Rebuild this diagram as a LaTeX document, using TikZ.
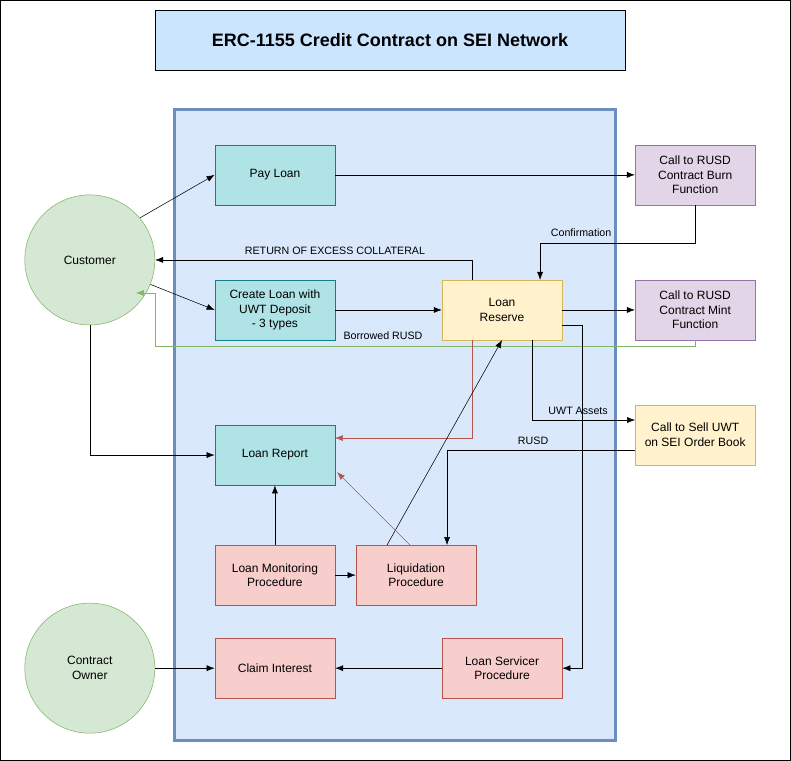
\documentclass[tikz,border=0pt]{standalone}
\usepackage{fontspec}
\setmainfont{Liberation Sans}
\usetikzlibrary{arrows.meta, positioning, calc}

\definecolor{titlefill}{HTML}{CCE5FF}
\definecolor{boxfill}{HTML}{DAE8FC}
\definecolor{boxline}{HTML}{6C8EBF}
\definecolor{tealfill}{HTML}{B0E3E6}
\definecolor{tealline}{HTML}{0E8088}
\definecolor{yelfill}{HTML}{FFF2CC}
\definecolor{yelline}{HTML}{D6B656}
\definecolor{purfill}{HTML}{E1D5E7}
\definecolor{purline}{HTML}{9673A6}
\definecolor{redfill}{HTML}{F8CECC}
\definecolor{redline}{HTML}{B85450}
\definecolor{grnfill}{HTML}{D5E8D4}
\definecolor{grnline}{HTML}{82B366}

\begin{document}
\begin{tikzpicture}[
    x=0.75pt, y=-0.75pt,
    every node/.style={font=\fontsize{9}{11}\selectfont, align=center},
    box/.style={rectangle, draw, minimum width=90pt, minimum height=45pt, inner sep=2pt},
    teal/.style={box, fill=tealfill, draw=tealline},
    yel/.style={box, fill=yelfill, draw=yelline},
    pur/.style={box, fill=purfill, draw=purline},
    rd/.style={box, fill=redfill, draw=redline},
    actor/.style={circle, draw=grnline, fill=grnfill, minimum size=97.5pt, inner sep=0pt},
    arr/.style={-{Latex[length=6pt,width=4.5pt]}, thin},
    rarr/.style={arr, draw=redline},
    garr/.style={arr, draw=grnline},
    lbl/.style={font=\fontsize{8}{10}\selectfont, inner sep=1pt}
    ]

    % frame
    \draw (0.5,0.5) rectangle (790.5,760.5);

    % title
    \node[draw, fill=titlefill, minimum width=352.5pt, minimum height=45pt,
          font=\fontsize{13.5}{16}\selectfont\bfseries] (title) at (390,40)
          {ERC-1155 Credit Contract on SEI Network};

    % contract container
    \draw[boxline, fill=boxfill, line width=2.2pt] (175,110) rectangle (615,740);

    % steps
    \node[teal] (pay) at (275,175) {Pay Loan};
    \node[teal] (create) at (275,310) {Create Loan with\\UWT Deposit\\- 3 types};
    \node[teal] (report) at (275,455) {Loan Report};
    \node[yel] (reserve) at (502,310) {Loan\\Reserve};
    \node[pur] (burn) at (695,175) {Call to RUSD\\Contract Burn\\Function};
    \node[pur] (mint) at (695,310) {Call to RUSD\\Contract Mint\\Function};
    \node[yel] (sell) at (695,435) {Call to Sell UWT\\on SEI Order Book};
    \node[rd] (monitor) at (275,575) {Loan Monitoring\\Procedure};
    \node[rd] (liquid) at (416,575) {Liquidation\\Procedure};
    \node[rd] (claim) at (275,668) {Claim Interest};
    \node[rd] (servicer) at (502,668) {Loan Servicer\\Procedure};

    % actors
    \node[actor] (customer) at (90,260) {Customer};
    \node[actor] (owner) at (90,668) {Contract\\Owner};

    % connectors
    \draw[arr] (customer.40) -- (pay.west);
    \draw[arr] (customer.-22) -- (create.west);
    \draw[arr] (customer.south) |- (report.west);
    \draw[arr] (pay.east) -- (burn.west);
    \draw[arr] (burn.south) |- (540,243) -- (540,280);
    \node[lbl] (conf) at (581,233) {Confirmation};
    \draw[arr] (472,280) |- (customer.east);
    \node[lbl] (excess) at (335,251) {RETURN OF EXCESS COLLATERAL};
    \draw[arr] (create.east) -- (reserve.west);
    \draw[arr] (reserve.east) -- (mint.west);
    \draw[garr] (mint.south) |- (155,346) |- (136,293);
    \node[lbl] (borrowed) at (383,336) {Borrowed RUSD};
    \draw[arr] (532,340) |- (635,420);
    \node[lbl] (uwt) at (578,411) {UWT Assets};
    \draw[arr] (635,450) -| (447,545);
    \node[lbl] (rusd) at (533,441) {RUSD};
    \draw[arr] (562,325) -| (582,668) -- (servicer.east);
    \draw[rarr] (472,340) |- (335,438);
    \draw[arr] (387,545) -- (502,340);
    \draw[rarr] (410,545) -- (337,472);
    \draw[arr] (monitor.north) -- (report.south);
    \draw[arr] (monitor.east) -- (liquid.west);
    \draw[arr] (owner.east) -- (claim.west);
    \draw[arr] (servicer.west) -- (claim.east);
\end{tikzpicture}
\end{document}
